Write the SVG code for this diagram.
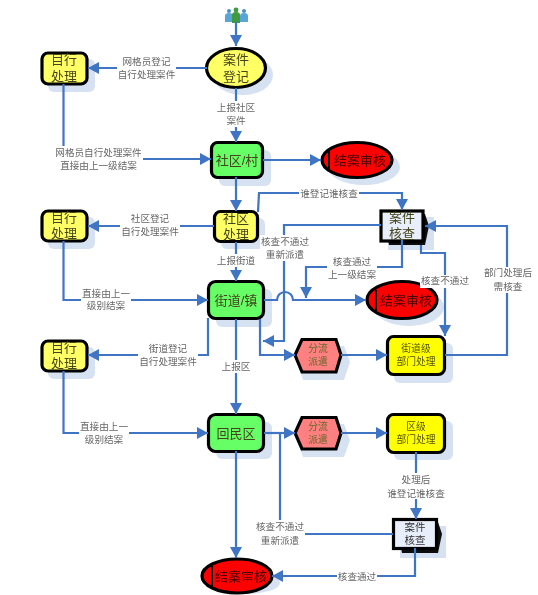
<svg xmlns="http://www.w3.org/2000/svg" width="538" height="595" viewBox="0 0 538 595">
<style>
text{font-family:"Liberation Sans","Noto Sans CJK SC",sans-serif;text-anchor:middle}
.c{fill:none;stroke:#3f74c4;stroke-width:2.2}
.a{fill:none;stroke:#3f74c4;stroke-width:2.2;marker-end:url(#arr)}
.l{font-size:9.6px;fill:#666}
.lb{fill:#fff}
.s{fill:#d6e2f1}
.n{stroke:#000;stroke-width:3.2}
.y{fill:#ffff66}.g{fill:#66ff66}.yy{fill:#ffff00}.r{fill:#ff0000}.p{fill:#ff8080}.w{fill:#e8eefa}
.t{font-size:13px;fill:#45451f}
.tr{font-size:13px;fill:#4a0000}
.ts{font-size:9.8px;fill:#66662a}
.tk{font-size:10.5px;fill:#333}
.ty{font-size:9.8px;fill:#555500}
.v{stroke:#000;stroke-width:2;fill:none}
svg > g{filter:url(#soft)}
</style>
<defs>
<filter id="soft" filterUnits="userSpaceOnUse" x="0" y="0" width="538" height="595"><feGaussianBlur stdDeviation="0.45"/></filter>
<marker id="arr" markerUnits="userSpaceOnUse" markerWidth="12" markerHeight="12" refX="11" refY="6" orient="auto"><path d="M0 0L11 6L0 12Z" fill="#3f74c4"/></marker>
</defs>
<rect width="538" height="595" fill="#fff"/>
<g id="people">
<circle cx="229" cy="11" r="2" fill="#4a90c8"/><path d="M225 22V16q0-3 4-3t4 3v6Z" fill="#5aa5d8"/>
<circle cx="244" cy="11" r="2" fill="#4a90c8"/><path d="M240 22V16q0-3 4-3t4 3v6Z" fill="#5aa5d8"/>
<circle cx="236" cy="10" r="2.400" fill="#3f9a3f"/><path d="M232 23V15q0-3 4-3t4 3v8Z" fill="#3f9a3f"/>
</g>
<g id="n1"><ellipse class="s" cx="243" cy="75" rx="30" ry="20"/><ellipse class="n y" cx="236" cy="68" rx="29.500" ry="19.500"/><text class="t" x="236" y="64">案件</text><text class="t" x="236" y="81">登记</text></g>
<g id="n2"><rect class="s" x="48" y="59" width="47" height="33" rx="6"/><rect class="n y" x="42" y="53" width="45" height="31" rx="6"/><text class="t" x="64" y="64">目行</text><text class="t" x="64" y="81">处理</text></g>
<g id="n3"><rect class="s" x="219" y="150" width="52" height="36" rx="6"/><rect class="n g" x="211.500" y="142.500" width="51" height="35" rx="6"/><text class="t" x="237" y="165">社区/村</text></g>
<g id="n4"><ellipse class="s" cx="364" cy="167" rx="36" ry="18"/><ellipse class="n r" cx="357" cy="160" rx="35" ry="17.500"/><path class="v" d="M329 150V170"/><text class="tr" x="360" y="165">结案审核</text></g>
<g id="n5"><rect class="s" x="221" y="218" width="44" height="31" rx="6"/><rect class="n y" x="214.500" y="211.500" width="43" height="30" rx="6"/><text class="t" x="236" y="223">社区</text><text class="t" x="236" y="239">处理</text></g>
<g id="n6"><rect class="s" x="388" y="217" width="46" height="33"/><path d="M384 214H425L429 226L425 245H389Z" fill="#111"/><rect class="n w" x="381" y="211" width="42" height="30"/><text class="t" x="402" y="222">案件</text><text class="t" x="402" y="238">核查</text></g>
<g id="n7"><rect class="s" x="48" y="217" width="47" height="32" rx="6"/><rect class="n y" x="42" y="211" width="45" height="30" rx="6"/><text class="t" x="64" y="222">目行</text><text class="t" x="64" y="238">处理</text></g>
<g id="n8"><rect class="s" x="216" y="289" width="56" height="38" rx="6"/><rect class="n g" x="208.500" y="281.500" width="55" height="37" rx="7"/><text class="t" x="236" y="305">街道/镇</text></g>
<g id="n9"><ellipse class="s" cx="409" cy="307" rx="35" ry="19"/><ellipse class="n r" cx="402" cy="300" rx="35" ry="18.500"/><path class="v" d="M376 290V311"/><text class="tr" x="406" y="305">结案审核</text></g>
<g id="n10"><path class="s" d="M303 346H344L350 362L344 380H303L297 362Z"/><path class="n p" d="M302 339.500H336L341 355L336 372H302L295 355Z"/><text class="ts" x="318" y="352">分流</text><text class="ts" x="318" y="365">派遣</text></g>
<g id="n11"><rect class="s" x="394" y="343" width="59" height="40" rx="6"/><rect class="n yy" x="387.500" y="336.500" width="57" height="38" rx="6"/><text class="ty" x="416" y="352">街道级</text><text class="ty" x="416" y="365">部门处理</text></g>
<g id="n12"><rect class="s" x="48" y="347" width="47" height="32" rx="6"/><rect class="n y" x="42" y="341" width="45" height="30" rx="6"/><text class="t" x="64" y="352">目行</text><text class="t" x="64" y="368">处理</text></g>
<g id="n13"><rect class="s" x="216" y="422" width="56" height="37" rx="6"/><rect class="n g" x="208.500" y="414.500" width="55" height="37" rx="7"/><text class="t" x="236" y="438">回民区</text></g>
<g id="n14"><path class="s" d="M303 424H344L350 440L344 457H303L297 440Z"/><path class="n p" d="M302 417.500H336L341 433L336 449H302L295 433Z"/><text class="ts" x="318" y="430">分流</text><text class="ts" x="318" y="443">派遣</text></g>
<g id="n15"><rect class="s" x="394" y="421" width="59" height="39" rx="6"/><rect class="n yy" x="387.500" y="414.500" width="57" height="38" rx="6"/><text class="ty" x="416" y="430">区级</text><text class="ty" x="416" y="443">部门处理</text></g>
<g id="n16"><rect class="s" x="400" y="526" width="46" height="32"/><path d="M397 522H438L442 534L438 553H402Z" fill="#111"/><rect class="n w" x="393.500" y="519.500" width="43" height="29"/><text class="tk" x="415" y="531">案件</text><text class="tk" x="415" y="544">核查</text></g>
<g id="n17"><ellipse class="s" cx="244" cy="583" rx="36" ry="11"/><ellipse class="n r" cx="237" cy="576" rx="35" ry="17"/><path class="v" d="M212 566V586"/><text class="tr" x="241" y="581">结案审核</text></g>
<g id="connectors">
<path class="a" d="M236 22V46"/>
<path class="a" d="M207 68H88"/>
<path class="a" d="M63.500 84V159H211"/>
<path class="a" d="M236 88V142"/>
<path class="a" d="M263 160H321"/>
<path class="a" d="M236 177V211"/>
<path class="a" d="M258 212L259 193H402V210"/>
<path class="a" d="M381 225H284V341H263"/>
<path class="a" d="M402 240V267H306V298"/>
<path class="a" d="M421 245V253H445V336"/>
<path class="a" d="M445 355H507V226H425"/>
<path class="a" d="M264 300H277A8 8 0 0 1 293 300H366"/>
<path class="a" d="M236 242V281"/>
<path class="a" d="M236 319V414"/>
<path class="a" d="M260 319V355H295"/>
<path class="a" d="M341 355H387"/>
<path class="a" d="M208 318V355H88"/>
<path class="a" d="M214 226H88"/>
<path class="a" d="M63.500 241V300H208"/>
<path class="a" d="M63.500 371V433H208"/>
<path class="a" d="M264 433H295"/>
<path class="a" d="M341 433H387"/>
<path class="a" d="M416 452V519"/>
<path class="c" d="M393 534H280V433"/>
<path class="a" d="M415 548V576H272"/>
<path class="a" d="M236 451V558"/>
<rect class="lb" x="117" y="55" width="59" height="26"/>
<text class="l" x="146.500" y="65">网格员登记</text><text class="l" x="146.500" y="78">自行处理案件</text>
<rect class="lb" x="216" y="101" width="40" height="26"/>
<text class="l" x="236" y="111">上报社区</text><text class="l" x="236" y="124">案件</text>
<rect class="lb" x="53" y="146" width="90" height="26"/>
<text class="l" x="98.500" y="156">网格员自行处理案件</text><text class="l" x="98.500" y="169">直接由上一级结案</text>
<rect class="lb" x="299" y="187" width="60" height="13"/>
<text class="l" x="329" y="197">谁登记谁核查</text>
<rect class="lb" x="260" y="235" width="50" height="26"/>
<text class="l" x="285" y="245">核查不通过</text><text class="l" x="285" y="258">重新派遣</text>
<rect class="lb" x="327" y="256" width="50" height="25"/>
<text class="l" x="352" y="265">核查通过</text><text class="l" x="352" y="278">上一级结案</text>
<rect class="lb" x="420" y="275" width="50" height="13"/>
<text class="l" x="445" y="284">核查不通过</text>
<rect class="lb" x="483" y="267" width="50" height="26"/>
<text class="l" x="508" y="276">部门处理后</text><text class="l" x="508" y="290">需核查</text>
<rect class="lb" x="216" y="254" width="40" height="13"/>
<text class="l" x="236" y="264">上报街道</text>
<rect class="lb" x="221" y="360" width="30" height="13"/>
<text class="l" x="236" y="370">上报区</text>
<rect class="lb" x="120" y="212" width="60" height="26"/>
<text class="l" x="150" y="222">社区登记</text><text class="l" x="150" y="235">自行处理案件</text>
<rect class="lb" x="81" y="287" width="50" height="26"/>
<text class="l" x="106" y="297">直接由上一</text><text class="l" x="106" y="309">级别结案</text>
<rect class="lb" x="138" y="343" width="60" height="26"/>
<text class="l" x="168" y="352">街道登记</text><text class="l" x="168" y="365">自行处理案件</text>
<rect class="lb" x="79" y="420" width="50" height="26"/>
<text class="l" x="104" y="430">直接由上一</text><text class="l" x="104" y="443">级别结案</text>
<rect class="lb" x="386" y="473" width="60" height="26"/>
<text class="l" x="416" y="483">处理后</text><text class="l" x="416" y="497">谁登记谁核查</text>
<rect class="lb" x="255" y="520" width="50" height="26"/>
<text class="l" x="280" y="530">核查不通过</text><text class="l" x="280" y="544">重新派遣</text>
<rect class="lb" x="337" y="570" width="40" height="13"/>
<text class="l" x="357" y="580">核查通过</text>
</g>
</svg>
